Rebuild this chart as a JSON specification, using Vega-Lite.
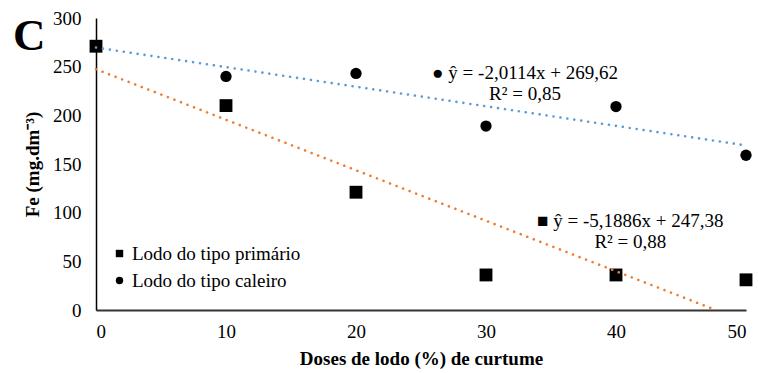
{
  "$schema": "https://vega.github.io/schema/vega-lite/v6.json",
  "width": 650,
  "height": 292,
  "autosize": "none",
  "padding": {"left": 96, "top": 18, "right": 12, "bottom": 63},
  "background": "white",
  "config": {
    "view": {"stroke": null},
    "font": "Liberation Serif",
    "axis": {"labelFont": "Liberation Serif", "titleFont": "Liberation Serif", "grid": false, "ticks": false, "labelColor": "black", "titleColor": "black"}
  },
  "title": {
    "text": "C",
    "anchor": "start",
    "frame": "group",
    "align": "left",
    "baseline": "top",
    "font": "Liberation Serif",
    "fontSize": 45,
    "fontWeight": "bold",
    "color": "black",
    "offset": -50,
    "dx": -83
  },
  "datasets": {
    "pontos": [
      {"dose": 0, "fe": 271, "lodo": "Lodo do tipo caleiro"},
      {"dose": 10, "fe": 240, "lodo": "Lodo do tipo caleiro"},
      {"dose": 20, "fe": 243, "lodo": "Lodo do tipo caleiro"},
      {"dose": 30, "fe": 189, "lodo": "Lodo do tipo caleiro"},
      {"dose": 40, "fe": 209, "lodo": "Lodo do tipo caleiro"},
      {"dose": 50, "fe": 159, "lodo": "Lodo do tipo caleiro"},
      {"dose": 0, "fe": 271, "lodo": "Lodo do tipo primário"},
      {"dose": 10, "fe": 210, "lodo": "Lodo do tipo primário"},
      {"dose": 20, "fe": 121, "lodo": "Lodo do tipo primário"},
      {"dose": 30, "fe": 36, "lodo": "Lodo do tipo primário"},
      {"dose": 40, "fe": 36, "lodo": "Lodo do tipo primário"},
      {"dose": 50, "fe": 31, "lodo": "Lodo do tipo primário"}
    ],
    "tendencia": [
      {"serie": "caleiro", "dose": 0, "fe": 269.62},
      {"serie": "caleiro", "dose": 50, "fe": 169.05},
      {"serie": "primario", "dose": 0, "fe": 247.38},
      {"serie": "primario", "dose": 47.68, "fe": 0}
    ],
    "equacoes": [
      {"texto": "● ŷ = -2,0114x + 269,62", "dose": 33, "fe": 244},
      {"texto": "R² = 0,85", "dose": 33, "fe": 222},
      {"texto": "■ ŷ = -5,1886x + 247,38", "dose": 41.1, "fe": 91.5},
      {"texto": "R² = 0,88", "dose": 41.1, "fe": 70}
    ]
  },
  "layer": [
    {
      "data": {"name": "pontos"},
      "transform": [{"filter": "datum.lodo === 'Lodo do tipo caleiro'"}],
      "mark": {"type": "point", "filled": true, "opacity": 1, "color": "black", "size": 127},
      "encoding": {
        "x": {
          "field": "dose", "type": "quantitative",
          "scale": {"domain": [0, 50], "nice": false},
          "axis": {
            "values": [0, 10, 20, 30, 40, 50],
            "title": "Doses de lodo (%) de curtume",
            "titleFontSize": 19, "titleFontWeight": "bold", "titlePadding": 8,
            "labelFontSize": 19, "labelPadding": 12,
            "domainColor": "#333333", "domainWidth": 2
          }
        },
        "y": {
          "field": "fe", "type": "quantitative",
          "scale": {"domain": [0, 300], "nice": false},
          "axis": {
            "values": [0, 50, 100, 150, 200, 250, 300],
            "title": "Fe (mg.dm⁻³)",
            "titleFontSize": 19, "titleFontWeight": "bold", "titlePadding": 10,
            "labelFontSize": 19, "labelPadding": 15,
            "domainColor": "black", "domainWidth": 1.5
          }
        },
        "shape": {
          "field": "lodo", "type": "nominal",
          "scale": {"domain": ["Lodo do tipo primário", "Lodo do tipo caleiro"], "range": ["square", "circle"]},
          "legend": {
            "title": null,
            "orient": "none",
            "legendX": 14,
            "legendY": 226,
            "labelFont": "Liberation Serif",
            "labelFontSize": 19,
            "labelColor": "black",
            "labelLimit": 400,
            "labelOffset": 3,
            "symbolSize": 55,
            "symbolFillColor": "black",
            "symbolStrokeColor": "black",
            "symbolStrokeWidth": 0,
            "rowPadding": 7
          }
        }
      }
    },
    {
      "data": {"name": "pontos"},
      "transform": [{"filter": "datum.lodo === 'Lodo do tipo primário'"}],
      "mark": {"type": "point", "filled": true, "opacity": 1, "color": "black", "size": 165},
      "encoding": {
        "x": {"field": "dose", "type": "quantitative"},
        "y": {"field": "fe", "type": "quantitative"},
        "shape": {"field": "lodo", "type": "nominal"}
      }
    },
    {
      "data": {"name": "tendencia"},
      "mark": {"type": "line", "strokeWidth": 2.6, "strokeDash": [0.01, 7], "strokeCap": "round"},
      "encoding": {
        "x": {"field": "dose", "type": "quantitative"},
        "y": {"field": "fe", "type": "quantitative"},
        "detail": {"field": "serie"},
        "color": {
          "field": "serie", "type": "nominal",
          "scale": {"domain": ["caleiro", "primario"], "range": ["#5B9BD5", "#ED7D31"]},
          "legend": null
        }
      }
    },
    {
      "data": {"name": "equacoes"},
      "mark": {"type": "text", "font": "Liberation Serif", "fontSize": 19, "color": "black", "align": "center", "baseline": "middle"},
      "encoding": {
        "x": {"field": "dose", "type": "quantitative"},
        "y": {"field": "fe", "type": "quantitative"},
        "text": {"field": "texto"}
      }
    }
  ]
}
